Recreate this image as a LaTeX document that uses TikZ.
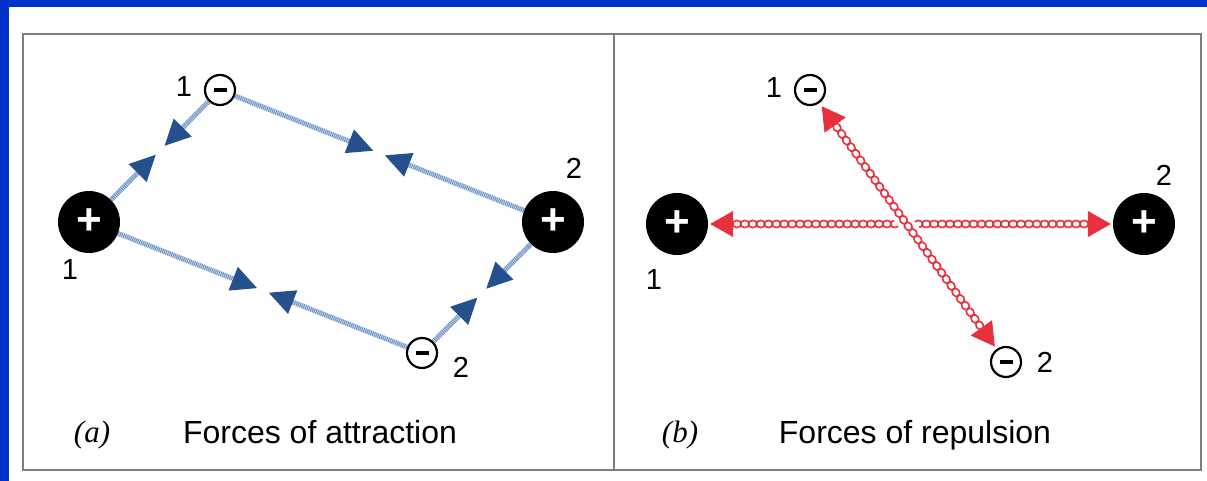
\documentclass[tikz,border=0pt]{standalone}
\usepackage{fontspec}
\setmainfont{Liberation Sans}
\newfontfamily\chuthuong{Liberation Serif}
\usetikzlibrary{arrows.meta,calc}
\definecolor{nenxanh}{RGB}{0,51,204}
\definecolor{khung}{RGB}{125,125,125}
\definecolor{duongxanh}{RGB}{110,150,200}
\definecolor{muixanh}{RGB}{36,80,140}
\definecolor{doday}{RGB}{232,48,60}
\begin{document}
\begin{tikzpicture}[x=1pt,y=-1pt,
    poscharge/.style={circle,fill=black,text=white,minimum size=62pt,inner sep=0pt,
        font=\fontsize{44}{44}\selectfont\bfseries},
    negcharge/.style={circle,draw=black,line width=2.2pt,fill=white,minimum size=30pt,inner sep=0pt},
    numlabel/.style={font=\fontsize{29}{29}\selectfont},
    captext/.style={anchor=base,font=\fontsize{32}{32}\selectfont},
    captag/.style={anchor=base,font=\fontsize{31}{31}\chuthuong\itshape},
    attract/.style={draw=duongxanh,line width=5pt,dash pattern=on 1.2pt off 0.7pt,
        shorten >=6pt,-{Triangle[length=26pt,width=24pt,color=muixanh]}},
    repeltip/.style={draw=doday,fill=doday,line width=1pt,-{Triangle[length=23pt,width=26pt]}},
    chainring/.style={draw=doday,line width=1.6pt}
    ]
    \useasboundingbox (0,0) rectangle (1207,481);
    % Nen xanh va khung
    \fill[nenxanh] (0,0) rectangle (1207,481);
    \fill[white] (9,7) rectangle (1207,481);
    \draw[khung,line width=2.5pt] (23,34) rectangle (1201,470);
    \draw[khung,line width=2.5pt] (614,34) -- (614,470);

    % Hinh (a): luc hut
    \node[poscharge] (ap1) at (89,222) {+};
    \node[poscharge] (ap2) at (553,222) {+};
    \node[negcharge] (an1) at (220,90) {\rule{13pt}{4.5pt}};
    \node[negcharge] (an2) at (422,353) {\rule{13pt}{4.5pt}};
    \node[numlabel] (lap1) at (70,270) {1};
    \node[numlabel] (lap2) at (574,168) {2};
    \node[numlabel] (lan1) at (184,87) {1};
    \node[numlabel] (lan2) at (461,367) {2};

    % Diem gap nhau cua cac mui ten
    \coordinate (q1) at ($(ap1)!0.5!(an1)$);
    \coordinate (m1) at ($(q1)!8pt!(an1)$);
    \coordinate (q2) at ($(an1)!0.5!(ap2)$);
    \coordinate (m2) at ($(q2)!8pt!(an1)$);
    \coordinate (q3) at ($(ap1)!0.5!(an2)$);
    \coordinate (m3) at ($(q3)!8pt!(an2)$);
    \coordinate (q4) at ($(an2)!0.5!(ap2)$);
    \coordinate (m4) at ($(q4)!8pt!(an2)$);
    \draw[attract] (ap1) -- (m1);
    \draw[attract] (an1) -- (m1);
    \draw[attract] (an1) -- (m2);
    \draw[attract] (ap2) -- (m2);
    \draw[attract] (ap1) -- (m3);
    \draw[attract] (an2) -- (m3);
    \draw[attract] (an2) -- (m4);
    \draw[attract] (ap2) -- (m4);

    \node[captag] (ta) at (92,442) {(a)};
    \node[captext] (tta) at (320,443) {Forces of attraction};

    % Hinh (b): luc day
    \node[poscharge] (bp1) at (677,224) {+};
    \node[poscharge] (bp2) at (1144,224) {+};
    \node[negcharge] (bn1) at (810,90) {\rule{13pt}{4.5pt}};
    \node[negcharge] (bn2) at (1006,362) {\rule{13pt}{4.5pt}};
    \node[numlabel] (lbp1) at (654,280) {1};
    \node[numlabel] (lbp2) at (1164,175) {2};
    \node[numlabel] (lbn1) at (774,88) {1};
    \node[numlabel] (lbn2) at (1045,362) {2};

    % Chan mui ten do
    \coordinate (h1) at ($(bp1)!56pt!(bp2)$);
    \coordinate (h2) at ($(bp2)!56pt!(bp1)$);
    \coordinate (d1) at ($(bn1)!42pt!(bn2)$);
    \coordinate (d2) at ($(bn2)!41pt!(bn1)$);

    % Day xoan ngang
    \foreach \i in {0,...,44}
        \draw[chainring] ($(h1)!{(\i+0.5)/45}!(h2)$) ellipse (4.3 and 3.6);
    \draw[repeltip,shorten >=2pt] (h1) -- (bp1);
    \draw[repeltip,shorten >=2pt] (h2) -- (bp2);
    % Day xoan cheo
    \draw[white,line width=16pt,shorten <=120pt,shorten >=120pt] (bn1) -- (bn2);
    \foreach \i in {0,...,30}
        \draw[chainring,shift={($(d1)!{(\i+0.5)/31}!(d2)$)},rotate=-54] (0,0) ellipse (4.3 and 3.6);
    \draw[repeltip,shorten >=4pt] (d1) -- (bn1);
    \draw[repeltip,shorten >=3pt] (d2) -- (bn2);

    \node[captag] (tb) at (680,442) {(b)};
    \node[captext] (ttb) at (915,443) {Forces of repulsion};
\end{tikzpicture}
\end{document}
